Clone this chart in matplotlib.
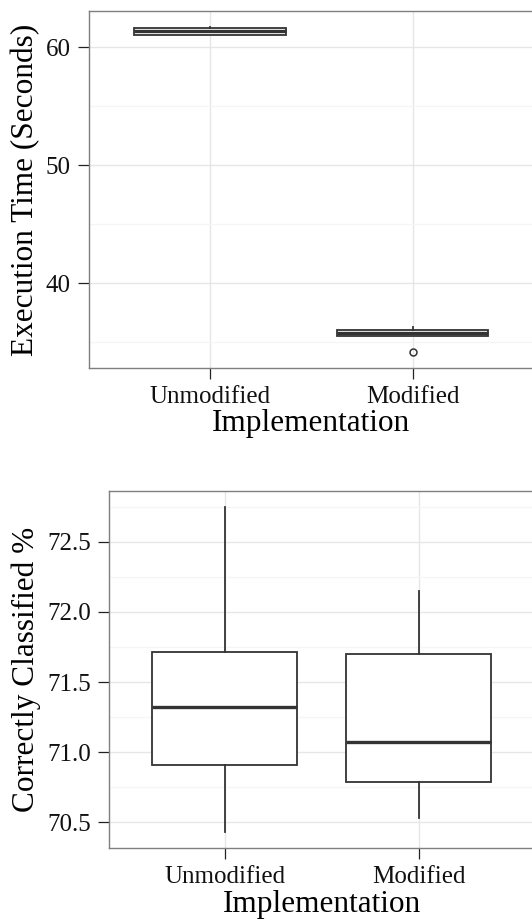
import matplotlib.pyplot as plt
from matplotlib.ticker import MultipleLocator

plt.rcParams['font.family'] = ['Liberation Serif', 'DejaVu Serif']

categories = ['Unmodified', 'Modified']

# execution time (seconds): box statistics
time_q1 = [61.04, 35.52]
time_med = [61.33, 35.77]
time_q3 = [61.63, 36.05]
time_lo = [61.02, 35.50]
time_hi = [61.66, 36.28]
time_out = [[], [34.19]]

# correctly classified %
acc_q1 = [70.907, 70.786]
acc_med = [71.324, 71.073]
acc_q3 = [71.715, 71.697]
acc_lo = [70.433, 70.533]
acc_hi = [72.745, 72.147]
acc_out = [[], []]

ink = '#333333'


def make_stats(q1, med, q3, lo, hi, out):
    stats = []
    for i in range(len(categories)):
        stats.append({'q1': q1[i], 'med': med[i], 'q3': q3[i],
                      'whislo': lo[i], 'whishi': hi[i], 'fliers': out[i]})
    return stats


def draw_panel(ax, stats, ylim, major, minor, ylabel, fmt):
    ax.bxp(stats, positions=[1, 2], widths=0.75, showcaps=False,
           patch_artist=True,
           boxprops=dict(facecolor='white', edgecolor=ink, linewidth=1.3),
           whiskerprops=dict(color=ink, linewidth=1.3),
           medianprops=dict(color=ink, linewidth=2.4),
           flierprops=dict(marker='o', markersize=5, markerfacecolor='none',
                           markeredgecolor=ink, markeredgewidth=1.1),
           zorder=3)
    ax.set_xlim(0.4, 2.6)
    ax.set_ylim(*ylim)
    ax.set_xticks([1, 2])
    ax.set_xticklabels(categories)
    ax.yaxis.set_major_locator(MultipleLocator(major))
    ax.yaxis.set_minor_locator(MultipleLocator(minor))
    ax.yaxis.set_major_formatter(fmt)
    ax.grid(True, which='major', color='#e6e6e6', linewidth=1.0, zorder=0)
    ax.grid(True, which='minor', axis='y', color='#f5f5f5', linewidth=1.0, zorder=0)
    ax.set_axisbelow(True)
    ax.tick_params(which='major', length=8, width=0.9, color='#222222',
                   labelsize=18, pad=5, labelcolor='#111111')
    ax.tick_params(which='minor', length=0)
    for s in ax.spines.values():
        s.set_color('#7f7f7f')
        s.set_linewidth(1.0)
    ax.set_xlabel('Implementation', fontsize=22.5, labelpad=1)
    ax.set_ylabel(ylabel, fontsize=22.5, labelpad=4)


fig = plt.figure(figsize=(5.32, 9.21), dpi=100)
ax1 = fig.add_axes([0.1667, 0.6004, 0.837, 0.3876])
ax2 = fig.add_axes([0.2043, 0.0789, 0.8008, 0.3883])

draw_panel(ax1, make_stats(time_q1, time_med, time_q3, time_lo, time_hi, time_out),
           (32.8, 63.05), 10, 5, 'Execution Time (Seconds)', '{x:.0f}')
draw_panel(ax2, make_stats(acc_q1, acc_med, acc_q3, acc_lo, acc_hi, acc_out),
           (70.315, 72.863), 0.5, 0.25, 'Correctly Classified %', '{x:.1f}')

fig.savefig('out.png', dpi=100)
